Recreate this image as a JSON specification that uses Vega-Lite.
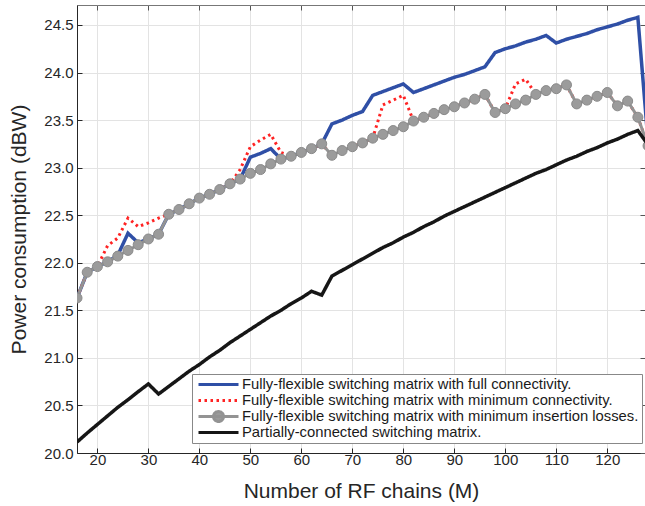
{
  "$schema": "https://vega.github.io/schema/vega-lite/v6.json",
  "width": 568,
  "height": 448,
  "autosize": {"type": "none"},
  "padding": {"left": 77, "top": 5, "right": 0, "bottom": 53},
  "background": "white",
  "config": {
    "font": "Liberation Sans",
    "view": {"stroke": "#777777", "strokeWidth": 1},
    "axis": {
      "grid": true,
      "gridColor": "#e3e3e3",
      "gridWidth": 1,
      "domainColor": "#262626",
      "domainWidth": 1,
      "tickColor": "#262626",
      "tickSize": -5,
      "labelFont": "Liberation Sans",
      "labelFontSize": 15,
      "labelColor": "#262626",
      "labelOverlap": false,
      "titleFont": "Liberation Sans",
      "titleFontSize": 21,
      "titleFontWeight": "normal",
      "titleColor": "#262626"
    }
  },
  "data": {"values": [
    {"M":16,"P":21.63,"s":"full"},{"M":18,"P":21.90,"s":"full"},{"M":20,"P":21.96,"s":"full"},{"M":22,"P":22.01,"s":"full"},{"M":24,"P":22.08,"s":"full"},{"M":26,"P":22.31,"s":"full"},{"M":28,"P":22.21,"s":"full"},{"M":30,"P":22.25,"s":"full"},{"M":32,"P":22.30,"s":"full"},{"M":34,"P":22.51,"s":"full"},{"M":36,"P":22.56,"s":"full"},{"M":38,"P":22.62,"s":"full"},{"M":40,"P":22.68,"s":"full"},{"M":42,"P":22.72,"s":"full"},{"M":44,"P":22.77,"s":"full"},{"M":46,"P":22.83,"s":"full"},{"M":48,"P":22.88,"s":"full"},{"M":50,"P":23.11,"s":"full"},{"M":52,"P":23.15,"s":"full"},{"M":54,"P":23.20,"s":"full"},{"M":56,"P":23.09,"s":"full"},{"M":58,"P":23.12,"s":"full"},{"M":60,"P":23.16,"s":"full"},{"M":62,"P":23.20,"s":"full"},{"M":64,"P":23.25,"s":"full"},{"M":66,"P":23.46,"s":"full"},{"M":68,"P":23.50,"s":"full"},{"M":70,"P":23.55,"s":"full"},{"M":72,"P":23.59,"s":"full"},{"M":74,"P":23.76,"s":"full"},{"M":76,"P":23.80,"s":"full"},{"M":78,"P":23.84,"s":"full"},{"M":80,"P":23.88,"s":"full"},{"M":82,"P":23.79,"s":"full"},{"M":84,"P":23.83,"s":"full"},{"M":86,"P":23.87,"s":"full"},{"M":88,"P":23.91,"s":"full"},{"M":90,"P":23.95,"s":"full"},{"M":92,"P":23.98,"s":"full"},{"M":94,"P":24.02,"s":"full"},{"M":96,"P":24.06,"s":"full"},{"M":98,"P":24.21,"s":"full"},{"M":100,"P":24.25,"s":"full"},{"M":102,"P":24.28,"s":"full"},{"M":104,"P":24.32,"s":"full"},{"M":106,"P":24.35,"s":"full"},{"M":108,"P":24.39,"s":"full"},{"M":110,"P":24.31,"s":"full"},{"M":112,"P":24.35,"s":"full"},{"M":114,"P":24.38,"s":"full"},{"M":116,"P":24.41,"s":"full"},{"M":118,"P":24.45,"s":"full"},{"M":120,"P":24.48,"s":"full"},{"M":122,"P":24.51,"s":"full"},{"M":124,"P":24.55,"s":"full"},{"M":126,"P":24.58,"s":"full"},{"M":128,"P":23.27,"s":"full"},

    {"M":16,"P":21.63,"s":"min"},{"M":18,"P":21.90,"s":"min"},{"M":20,"P":21.96,"s":"min"},{"M":22,"P":22.18,"s":"min"},{"M":24,"P":22.26,"s":"min"},{"M":26,"P":22.47,"s":"min"},{"M":28,"P":22.38,"s":"min"},{"M":30,"P":22.42,"s":"min"},{"M":32,"P":22.47,"s":"min"},{"M":34,"P":22.51,"s":"min"},{"M":36,"P":22.56,"s":"min"},{"M":38,"P":22.62,"s":"min"},{"M":40,"P":22.68,"s":"min"},{"M":42,"P":22.72,"s":"min"},{"M":44,"P":22.77,"s":"min"},{"M":46,"P":22.83,"s":"min"},{"M":48,"P":22.98,"s":"min"},{"M":50,"P":23.22,"s":"min"},{"M":52,"P":23.29,"s":"min"},{"M":54,"P":23.35,"s":"min"},{"M":56,"P":23.16,"s":"min"},{"M":58,"P":23.12,"s":"min"},{"M":60,"P":23.16,"s":"min"},{"M":62,"P":23.20,"s":"min"},{"M":64,"P":23.25,"s":"min"},{"M":66,"P":23.13,"s":"min"},{"M":68,"P":23.18,"s":"min"},{"M":70,"P":23.22,"s":"min"},{"M":72,"P":23.26,"s":"min"},{"M":74,"P":23.31,"s":"min"},{"M":76,"P":23.66,"s":"min"},{"M":78,"P":23.71,"s":"min"},{"M":80,"P":23.76,"s":"min"},{"M":82,"P":23.49,"s":"min"},{"M":84,"P":23.53,"s":"min"},{"M":86,"P":23.57,"s":"min"},{"M":88,"P":23.61,"s":"min"},{"M":90,"P":23.64,"s":"min"},{"M":92,"P":23.68,"s":"min"},{"M":94,"P":23.72,"s":"min"},{"M":96,"P":23.77,"s":"min"},{"M":98,"P":23.58,"s":"min"},{"M":100,"P":23.62,"s":"min"},{"M":102,"P":23.88,"s":"min"},{"M":104,"P":23.93,"s":"min"},{"M":106,"P":23.77,"s":"min"},{"M":108,"P":23.81,"s":"min"},{"M":110,"P":23.83,"s":"min"},{"M":112,"P":23.87,"s":"min"},{"M":114,"P":23.67,"s":"min"},{"M":116,"P":23.71,"s":"min"},{"M":118,"P":23.75,"s":"min"},{"M":120,"P":23.79,"s":"min"},{"M":122,"P":23.65,"s":"min"},{"M":124,"P":23.70,"s":"min"},{"M":126,"P":23.53,"s":"min"},{"M":128,"P":23.23,"s":"min"},

    {"M":16,"P":21.63,"s":"ins"},{"M":18,"P":21.90,"s":"ins"},{"M":20,"P":21.96,"s":"ins"},{"M":22,"P":22.01,"s":"ins"},{"M":24,"P":22.07,"s":"ins"},{"M":26,"P":22.13,"s":"ins"},{"M":28,"P":22.19,"s":"ins"},{"M":30,"P":22.25,"s":"ins"},{"M":32,"P":22.30,"s":"ins"},{"M":34,"P":22.51,"s":"ins"},{"M":36,"P":22.56,"s":"ins"},{"M":38,"P":22.62,"s":"ins"},{"M":40,"P":22.68,"s":"ins"},{"M":42,"P":22.72,"s":"ins"},{"M":44,"P":22.77,"s":"ins"},{"M":46,"P":22.83,"s":"ins"},{"M":48,"P":22.88,"s":"ins"},{"M":50,"P":22.94,"s":"ins"},{"M":52,"P":22.98,"s":"ins"},{"M":54,"P":23.04,"s":"ins"},{"M":56,"P":23.09,"s":"ins"},{"M":58,"P":23.12,"s":"ins"},{"M":60,"P":23.16,"s":"ins"},{"M":62,"P":23.20,"s":"ins"},{"M":64,"P":23.25,"s":"ins"},{"M":66,"P":23.13,"s":"ins"},{"M":68,"P":23.18,"s":"ins"},{"M":70,"P":23.22,"s":"ins"},{"M":72,"P":23.26,"s":"ins"},{"M":74,"P":23.31,"s":"ins"},{"M":76,"P":23.35,"s":"ins"},{"M":78,"P":23.39,"s":"ins"},{"M":80,"P":23.43,"s":"ins"},{"M":82,"P":23.49,"s":"ins"},{"M":84,"P":23.53,"s":"ins"},{"M":86,"P":23.57,"s":"ins"},{"M":88,"P":23.61,"s":"ins"},{"M":90,"P":23.64,"s":"ins"},{"M":92,"P":23.68,"s":"ins"},{"M":94,"P":23.72,"s":"ins"},{"M":96,"P":23.77,"s":"ins"},{"M":98,"P":23.58,"s":"ins"},{"M":100,"P":23.62,"s":"ins"},{"M":102,"P":23.67,"s":"ins"},{"M":104,"P":23.71,"s":"ins"},{"M":106,"P":23.77,"s":"ins"},{"M":108,"P":23.81,"s":"ins"},{"M":110,"P":23.83,"s":"ins"},{"M":112,"P":23.87,"s":"ins"},{"M":114,"P":23.67,"s":"ins"},{"M":116,"P":23.71,"s":"ins"},{"M":118,"P":23.75,"s":"ins"},{"M":120,"P":23.79,"s":"ins"},{"M":122,"P":23.65,"s":"ins"},{"M":124,"P":23.70,"s":"ins"},{"M":126,"P":23.53,"s":"ins"},{"M":128,"P":23.23,"s":"ins"},

    {"M":16,"P":20.115,"s":"part"},{"M":18,"P":20.21,"s":"part"},{"M":20,"P":20.30,"s":"part"},{"M":22,"P":20.39,"s":"part"},{"M":24,"P":20.48,"s":"part"},{"M":26,"P":20.56,"s":"part"},{"M":28,"P":20.645,"s":"part"},{"M":30,"P":20.726,"s":"part"},{"M":32,"P":20.62,"s":"part"},{"M":34,"P":20.70,"s":"part"},{"M":36,"P":20.78,"s":"part"},{"M":38,"P":20.86,"s":"part"},{"M":40,"P":20.93,"s":"part"},{"M":42,"P":21.01,"s":"part"},{"M":44,"P":21.08,"s":"part"},{"M":46,"P":21.16,"s":"part"},{"M":48,"P":21.23,"s":"part"},{"M":50,"P":21.30,"s":"part"},{"M":52,"P":21.37,"s":"part"},{"M":54,"P":21.44,"s":"part"},{"M":56,"P":21.50,"s":"part"},{"M":58,"P":21.57,"s":"part"},{"M":60,"P":21.63,"s":"part"},{"M":62,"P":21.70,"s":"part"},{"M":64,"P":21.66,"s":"part"},{"M":66,"P":21.86,"s":"part"},{"M":68,"P":21.92,"s":"part"},{"M":70,"P":21.98,"s":"part"},{"M":72,"P":22.04,"s":"part"},{"M":74,"P":22.10,"s":"part"},{"M":76,"P":22.16,"s":"part"},{"M":78,"P":22.21,"s":"part"},{"M":80,"P":22.27,"s":"part"},{"M":82,"P":22.32,"s":"part"},{"M":84,"P":22.38,"s":"part"},{"M":86,"P":22.43,"s":"part"},{"M":88,"P":22.49,"s":"part"},{"M":90,"P":22.54,"s":"part"},{"M":92,"P":22.59,"s":"part"},{"M":94,"P":22.64,"s":"part"},{"M":96,"P":22.69,"s":"part"},{"M":98,"P":22.74,"s":"part"},{"M":100,"P":22.79,"s":"part"},{"M":102,"P":22.84,"s":"part"},{"M":104,"P":22.89,"s":"part"},{"M":106,"P":22.94,"s":"part"},{"M":108,"P":22.98,"s":"part"},{"M":110,"P":23.03,"s":"part"},{"M":112,"P":23.08,"s":"part"},{"M":114,"P":23.12,"s":"part"},{"M":116,"P":23.17,"s":"part"},{"M":118,"P":23.21,"s":"part"},{"M":120,"P":23.26,"s":"part"},{"M":122,"P":23.30,"s":"part"},{"M":124,"P":23.35,"s":"part"},{"M":126,"P":23.39,"s":"part"},{"M":128,"P":23.24,"s":"part"}
  ]},
  "resolve": {"axis": {"x": "independent", "y": "independent"}},
  "layer": [
    {
      "transform": [{"filter": "datum.s === 'full'"}],
      "mark": {"type": "line", "strokeWidth": 3.5, "clip": true},
      "encoding": {
        "x": {"field": "M", "type": "quantitative", "scale": {"domain": [16, 127.4], "nice": false, "zero": false},
              "axis": {"orient": "bottom", "values": [20,30,40,50,60,70,80,90,100,110,120], "title": "Number of RF chains (M)", "labelPadding": 4, "titlePadding": 13}},
        "y": {"field": "P", "type": "quantitative", "scale": {"domain": [20, 24.71], "nice": false, "zero": false},
              "axis": {"orient": "left", "values": [20,20.5,21,21.5,22,22.5,23,23.5,24,24.5], "title": "Power consumption (dBW)", "labelPadding": 9, "titlePadding": 14}},
        "color": {"field": "s", "type": "nominal",
                  "scale": {"domain": ["full", "min", "ins", "part"], "range": ["#2f4fa6", "#ff2323", "#939393", "#161616"]},
                  "legend": {
                    "orient": "none", "legendX": 115, "legendY": 369, "title": null,
                    "symbolType": "stroke", "symbolSize": 1600, "symbolStrokeWidth": 3,
                    "clipHeight": 15,
                    "labelFont": "Liberation Sans", "labelFontSize": 14.8, "labelColor": "#1a1a1a", "labelLimit": 0,
                    "labelOffset": 2, "symbolOffset": 2, "padding": 3, "rowPadding": 0,
                    "strokeColor": "#888888", "fillColor": "white",
                    "labelExpr": "{'full': 'Fully-flexible switching matrix with full connectivity.', 'min': 'Fully-flexible switching matrix with minimum connectivity.', 'ins': 'Fully-flexible switching matrix with minimum insertion losses.', 'part': 'Partially-connected switching matrix.'}[datum.label]",
                    "encode": {"symbols": {"update": {
                      "shape": {"signal": "datum.value === 'ins' ? 'M-1,0L1,0M-0.25,0A0.25,0.25,0,1,0,0.25,0A0.25,0.25,0,1,0,-0.25,0Z' : 'stroke'"},
                      "fill": {"signal": "datum.value === 'ins' ? '#9b9b9b' : 'transparent'"}
                    }}}
                  }},
        "strokeDash": {"field": "s", "type": "nominal",
                       "scale": {"domain": ["full", "min", "ins", "part"], "range": [[1, 0], [2.5, 3.5], [1, 0], [1, 0]]}}
      }
    },
    {
      "transform": [{"filter": "datum.s === 'min'"}],
      "mark": {"type": "line", "strokeWidth": 3, "clip": true},
      "encoding": {
        "x": {"field": "M", "type": "quantitative", "axis": null},
        "y": {"field": "P", "type": "quantitative", "axis": null},
        "color": {"field": "s", "type": "nominal"},
        "strokeDash": {"field": "s", "type": "nominal"}
      }
    },
    {
      "transform": [{"filter": "datum.s === 'ins'"}],
      "mark": {"type": "line", "strokeWidth": 3, "clip": true},
      "encoding": {
        "x": {"field": "M", "type": "quantitative", "axis": null},
        "y": {"field": "P", "type": "quantitative", "axis": null},
        "color": {"field": "s", "type": "nominal"},
        "strokeDash": {"field": "s", "type": "nominal"}
      }
    },
    {
      "transform": [{"filter": "datum.s === 'ins'"}],
      "mark": {"type": "point", "filled": true, "size": 100, "fill": "#9b9b9b", "stroke": "#8a8a8a", "strokeWidth": 1, "opacity": 1, "clip": true},
      "encoding": {
        "x": {"field": "M", "type": "quantitative", "axis": null},
        "y": {"field": "P", "type": "quantitative", "axis": null}
      }
    },
    {
      "transform": [{"filter": "datum.s === 'part'"}],
      "mark": {"type": "line", "strokeWidth": 3.5, "clip": true},
      "encoding": {
        "x": {"field": "M", "type": "quantitative", "axis": null},
        "y": {"field": "P", "type": "quantitative", "axis": null},
        "color": {"field": "s", "type": "nominal"},
        "strokeDash": {"field": "s", "type": "nominal"}
      }
    },
    {
      "transform": [{"filter": "datum.s === 'part'"}],
      "mark": {"type": "line", "opacity": 0, "clip": true},
      "encoding": {
        "x": {"field": "M", "type": "quantitative",
              "axis": {"orient": "top", "values": [20,30,40,50,60,70,80,90,100,110,120], "labels": false, "title": null, "grid": false, "domain": false, "tickColor": "#555555"}},
        "y": {"field": "P", "type": "quantitative",
              "axis": {"orient": "right", "values": [20,20.5,21,21.5,22,22.5,23,23.5,24,24.5], "labels": false, "title": null, "grid": false, "domain": false, "tickColor": "#555555"}}
      }
    }
  ]
}
